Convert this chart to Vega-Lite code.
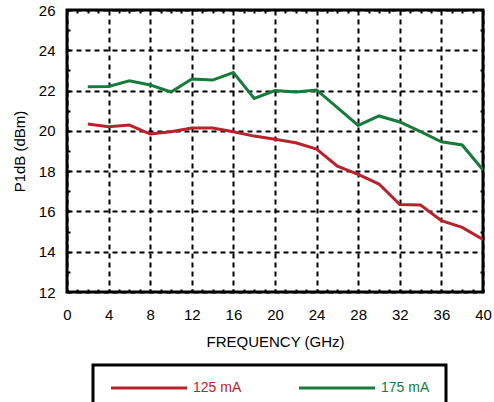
{
  "$schema": "https://vega.github.io/schema/vega-lite/v6.json",
  "width": 416,
  "height": 282,
  "autosize": "none",
  "padding": {"left": 67, "top": 10, "right": 11, "bottom": 110},
  "background": "white",
  "config": {
    "view": {"stroke": "black", "strokeWidth": 3},
    "font": "Liberation Sans"
  },
  "data": {
    "values": [
      {"f": 2, "p": 20.34, "s": "125 mA"},
      {"f": 4, "p": 20.21, "s": "125 mA"},
      {"f": 6, "p": 20.29, "s": "125 mA"},
      {"f": 8, "p": 19.84, "s": "125 mA"},
      {"f": 10, "p": 19.96, "s": "125 mA"},
      {"f": 12, "p": 20.14, "s": "125 mA"},
      {"f": 14, "p": 20.14, "s": "125 mA"},
      {"f": 16, "p": 19.96, "s": "125 mA"},
      {"f": 18, "p": 19.74, "s": "125 mA"},
      {"f": 20, "p": 19.58, "s": "125 mA"},
      {"f": 22, "p": 19.41, "s": "125 mA"},
      {"f": 24, "p": 19.1, "s": "125 mA"},
      {"f": 26, "p": 18.25, "s": "125 mA"},
      {"f": 28, "p": 17.84, "s": "125 mA"},
      {"f": 30, "p": 17.36, "s": "125 mA"},
      {"f": 32, "p": 16.34, "s": "125 mA"},
      {"f": 34, "p": 16.32, "s": "125 mA"},
      {"f": 36, "p": 15.54, "s": "125 mA"},
      {"f": 38, "p": 15.21, "s": "125 mA"},
      {"f": 40, "p": 14.61, "s": "125 mA"},
      {"f": 2, "p": 22.19, "s": "175 mA"},
      {"f": 4, "p": 22.2, "s": "175 mA"},
      {"f": 6, "p": 22.49, "s": "175 mA"},
      {"f": 8, "p": 22.28, "s": "175 mA"},
      {"f": 10, "p": 21.93, "s": "175 mA"},
      {"f": 12, "p": 22.57, "s": "175 mA"},
      {"f": 14, "p": 22.52, "s": "175 mA"},
      {"f": 16, "p": 22.89, "s": "175 mA"},
      {"f": 18, "p": 21.61, "s": "175 mA"},
      {"f": 20, "p": 22.0, "s": "175 mA"},
      {"f": 22, "p": 21.93, "s": "175 mA"},
      {"f": 24, "p": 22.03, "s": "175 mA"},
      {"f": 26, "p": 21.15, "s": "175 mA"},
      {"f": 28, "p": 20.27, "s": "175 mA"},
      {"f": 30, "p": 20.74, "s": "175 mA"},
      {"f": 32, "p": 20.44, "s": "175 mA"},
      {"f": 34, "p": 19.96, "s": "175 mA"},
      {"f": 36, "p": 19.46, "s": "175 mA"},
      {"f": 38, "p": 19.3, "s": "175 mA"},
      {"f": 40, "p": 18.06, "s": "175 mA"}
    ]
  },
  "layer": [
    {
      "mark": {"type": "line", "strokeWidth": 3, "clip": true},
      "encoding": {
        "x": {
          "field": "f", "type": "quantitative",
          "scale": {"domain": [0, 40], "nice": false, "zero": false},
          "axis": {
            "orient": "bottom",
            "values": [0,1,2,3,4,5,6,7,8,9,10,11,12,13,14,15,16,17,18,19,20,21,22,23,24,25,26,27,28,29,30,31,32,33,34,35,36,37,38,39,40],
            "labelExpr": "datum.value % 4 === 0 ? datum.label : ''",
            "labelOverlap": false,
            "labelFlush": false,
            "labelFontSize": 15,
            "labelColor": "black",
            "labelPadding": 18,
            "domain": false,
            "ticks": true,
            "tickSize": -3,
            "tickWidth": 2,
            "tickColor": "black",
            "grid": true,
            "gridColor": "black",
            "gridWidth": 2,
            "gridDash": [5, 4],
            "gridOpacity": {"condition": {"test": "datum.value % 4 === 0", "value": 1}, "value": 0},
            "title": "FREQUENCY (GHz)",
            "titleFontSize": 15,
            "titleFontWeight": "normal",
            "titleColor": "black",
            "titlePadding": 12
          }
        },
        "y": {
          "field": "p", "type": "quantitative",
          "scale": {"domain": [12, 26], "nice": false, "zero": false},
          "axis": {
            "orient": "left",
            "values": [12,13,14,15,16,17,18,19,20,21,22,23,24,25,26],
            "labelExpr": "datum.value % 2 === 0 ? datum.label : ''",
            "labelOverlap": false,
            "labelFlush": false,
            "labelFontSize": 15,
            "labelColor": "black",
            "labelPadding": 15,
            "domain": false,
            "ticks": true,
            "tickSize": -3,
            "tickWidth": 2,
            "tickColor": "black",
            "grid": true,
            "gridColor": "black",
            "gridWidth": 2,
            "gridDash": [5, 4],
            "gridOpacity": {"condition": {"test": "datum.value % 2 === 0", "value": 1}, "value": 0},
            "title": "P1dB (dBm)",
            "titleFontSize": 15,
            "titleFontWeight": "normal",
            "titleColor": "black",
            "titlePadding": 11
          }
        },
        "color": {
          "field": "s", "type": "nominal",
          "scale": {"domain": ["125 mA", "175 mA"], "range": ["#b8222a", "#187a3b"]},
          "legend": {
            "title": null,
            "orient": "none",
            "legendX": 26,
            "legendY": 355,
            "direction": "horizontal",
            "strokeColor": "black",
            "padding": 16,
            "symbolType": "M-7.6,0H7.6",
            "symbolSize": 100,
            "symbolStrokeWidth": 3,
            "symbolOffset": 33,
            "labelFontSize": 14,
            "labelOffset": 37,
            "columnPadding": 51,
            "encode": {
              "legend": {"update": {"strokeWidth": {"value": 3}}},
              "labels": {"update": {"fill": {"signal": "datum.label === '125 mA' ? '#b8222a' : '#187a3b'"}}}
            }
          }
        }
      }
    },
    {
      "mark": {"type": "line", "strokeOpacity": 0},
      "encoding": {
        "x": {
          "field": "f", "type": "quantitative",
          "axis": {
            "orient": "top",
            "values": [1,2,3,5,6,7,9,10,11,13,14,15,17,18,19,21,22,23,25,26,27,29,30,31,33,34,35,37,38,39],
            "labels": false,
            "domain": false,
            "grid": false,
            "tickSize": -3,
            "tickWidth": 2,
            "tickColor": "black",
            "title": null
          }
        },
        "y": {
          "field": "p", "type": "quantitative",
          "axis": {
            "orient": "right",
            "values": [13,15,17,19,21,23,25],
            "labels": false,
            "domain": false,
            "grid": false,
            "tickSize": -3,
            "tickWidth": 2,
            "tickColor": "black",
            "title": null
          }
        },
        "detail": {"field": "s"}
      }
    }
  ],
  "resolve": {"axis": {"x": "independent", "y": "independent"}}
}
